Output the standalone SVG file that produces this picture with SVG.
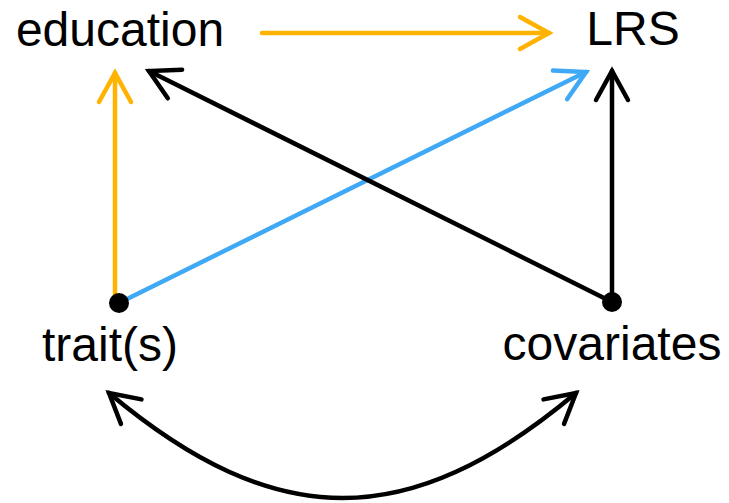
<svg xmlns="http://www.w3.org/2000/svg" width="729" height="503" viewBox="0 0 729 503">
<style>
.lbl{font-family:"Liberation Sans",Arial,sans-serif;font-size:48px;fill:#000;text-anchor:middle}
.e{fill:none;stroke-width:4.5;stroke-linecap:round}
</style>
<defs>
<marker id="mY" markerUnits="userSpaceOnUse" markerWidth="40" markerHeight="40" viewBox="-35 -20 40 40" refX="0" refY="0" orient="auto-start-reverse"><path d="M-29,-16 L0,0 L-29,16" fill="none" stroke="#FFB300" stroke-width="4.5" stroke-linecap="round"/></marker>
<marker id="mB" markerUnits="userSpaceOnUse" markerWidth="40" markerHeight="40" viewBox="-35 -20 40 40" refX="0" refY="0" orient="auto-start-reverse"><path d="M-29,-16 L0,0 L-29,16" fill="none" stroke="#3FA9F5" stroke-width="4.5" stroke-linecap="round"/></marker>
<marker id="mK" markerUnits="userSpaceOnUse" markerWidth="40" markerHeight="40" viewBox="-35 -20 40 40" refX="0" refY="0" orient="auto-start-reverse"><path d="M-29,-16 L0,0 L-29,16" fill="none" stroke="#000" stroke-width="4.5" stroke-linecap="round"/></marker>
</defs>
<g id="connectors">
<path class="e" d="M262,33 L549,33" stroke="#FFB300" marker-end="url(#mY)"/>
<path class="e" d="M115,300 L115,73" stroke="#FFB300" marker-end="url(#mY)"/>
<path class="e" d="M119,303 L586,72" stroke="#3FA9F5" marker-end="url(#mB)"/>
<path class="e" d="M612,302 L612,71" stroke="#000" marker-end="url(#mK)"/>
<path class="e" d="M612,302 L149,71" stroke="#000" marker-end="url(#mK)"/>
<path class="e" d="M109,393 C276,533 409,533 576,393" stroke="#000" marker-start="url(#mK)" marker-end="url(#mK)"/>
</g>
<g id="education"><text class="lbl" x="120" y="46">education</text></g>
<g id="LRS"><text class="lbl" x="633" y="45">LRS</text></g>
<g id="traits"><circle cx="119" cy="303" r="10" fill="#000"/><text class="lbl" x="110" y="361">trait(s)</text></g>
<g id="covariates"><circle cx="612" cy="302" r="10" fill="#000"/><text class="lbl" x="612" y="360">covariates</text></g>
</svg>
